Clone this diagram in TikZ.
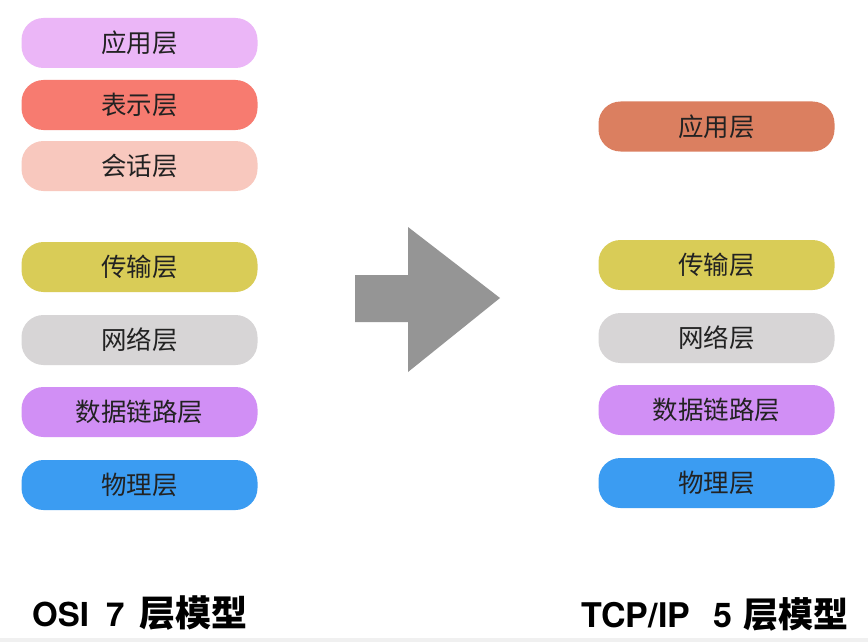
\documentclass[tikz,border=0pt]{standalone}
\usepackage{fontspec}
\newfontfamily\cjk{Noto Sans CJK SC}
\newfontfamily\cjkb{Noto Sans CJK SC Bold}
\newfontfamily\heros{TeX Gyre Heros}
\definecolor{cApp}{HTML}{EBB6F7}
\definecolor{cPre}{HTML}{F77B70}
\definecolor{cSes}{HTML}{F8C8BE}
\definecolor{cTra}{HTML}{D9CC57}
\definecolor{cNet}{HTML}{D7D5D6}
\definecolor{cDat}{HTML}{D18FF5}
\definecolor{cPhy}{HTML}{3B9CF2}
\definecolor{cApp2}{HTML}{DB7F60}
\definecolor{cArrow}{HTML}{959595}
\definecolor{cText}{HTML}{222222}
\begin{document}
\begin{tikzpicture}[x=1pt,y=-1pt,
  layer/.style={rounded corners=22pt, minimum width=236pt, minimum height=50pt,
    inner sep=0pt, text=cText, font=\cjk\fontsize{25.5}{25.5}\selectfont},
  caption/.style={anchor=base west, text=black, inner sep=0pt}]
\useasboundingbox (0,0) rectangle (868,642);
\fill[white] (0,0) rectangle (868,642);
\fill[black!6] (0,638) rectangle (868,642);
% left column
\node[layer, fill=cApp] (l1) at (139.5,43) {应用层};
\node[layer, fill=cPre] (l2) at (139.5,105) {表示层};
\node[layer, fill=cSes] (l3) at (139.5,166) {会话层};
\node[layer, fill=cTra] (l4) at (139.5,267) {传输层};
\node[layer, fill=cNet] (l5) at (139.5,340) {网络层};
\node[layer, fill=cDat] (l6) at (139.5,412) {数据链路层};
\node[layer, fill=cPhy] (l7) at (139.5,485) {物理层};
% right column
\node[layer, fill=cApp2] (r1) at (716.5,126.5) {应用层};
\node[layer, fill=cTra] (r4) at (716.5,265) {传输层};
\node[layer, fill=cNet] (r5) at (716.5,338) {网络层};
\node[layer, fill=cDat] (r6) at (716.5,410) {数据链路层};
\node[layer, fill=cPhy] (r7) at (716.5,483) {物理层};
% arrow
\fill[cArrow] (355,275) -- (408,275) -- (408,227) -- (500,298) -- (408,372) -- (408,322) -- (355,322) -- cycle;
% captions
\node[caption] (osi) at (32,626) {\fontsize{33}{33}\selectfont\heros\bfseries OSI\hspace{17pt}7\hspace{15pt}{\cjkb\fontsize{36}{36}\selectfont 层模型}};
\node[caption] (tcp) at (581,627) {\fontsize{34}{34}\selectfont\heros\bfseries TCP/IP\hspace{23pt}5\hspace{11pt}{\cjkb\fontsize{35}{35}\selectfont 层模型}};
\end{tikzpicture}
\end{document}
